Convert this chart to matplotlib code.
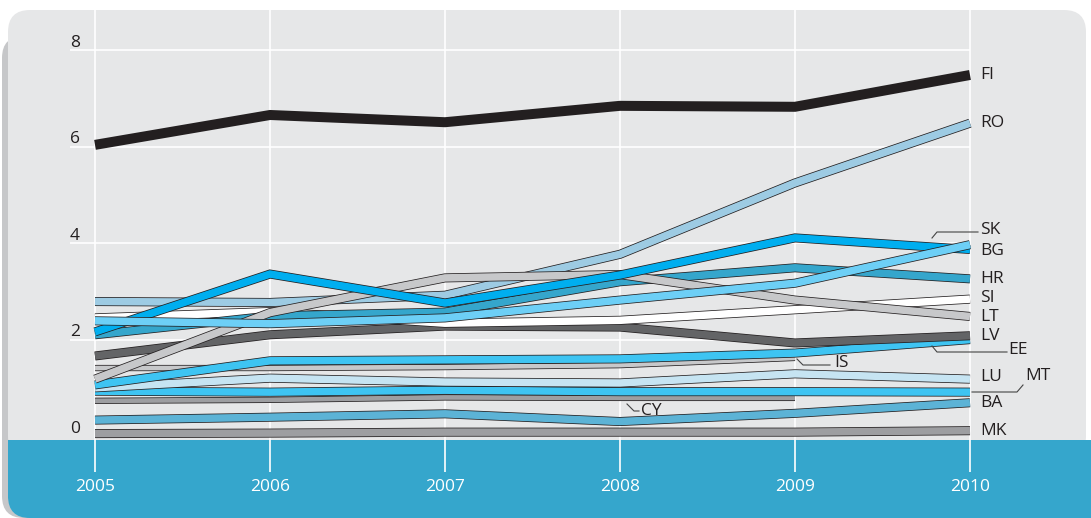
import numpy as np
import matplotlib
matplotlib.use("Agg")
import matplotlib.pyplot as plt
import matplotlib.patheffects as pe
from matplotlib.patches import FancyBboxPatch, Rectangle
from matplotlib.transforms import IdentityTransform

plt.rcParams['font.family'] = ['Open Sans', 'DejaVu Sans']

years = [2005, 2006, 2007, 2008, 2009, 2010]
nan = np.nan

# values
FI = [6.04, 6.66, 6.51, 6.85, 6.83, 7.49]
RO = [2.79, 2.77, 2.92, 3.77, 5.25, 6.49]
SK = [2.16, 3.36, 2.76, 3.34, 4.11, 3.87]
BG = [2.39, 2.33, 2.45, 2.82, 3.17, 3.97]
HR = [2.10, 2.49, 2.57, 3.20, 3.49, 3.26]
SI = [2.45, 2.58, 2.34, 2.40, 2.62, 2.84]
LT = [1.18, 2.56, 3.28, 3.35, 2.82, 2.48]
LV = [1.66, 2.10, 2.28, 2.26, 1.93, 2.08]
EE = [1.06, 1.56, 1.58, 1.60, 1.72, 2.00]
IS = [1.41, 1.41, 1.43, 1.47, 1.62, nan]
LU = [1.00, 1.20, 1.12, 1.10, 1.29, 1.18]
MT = [0.93, 0.91, 0.95, 0.92, 0.92, 0.91]
CY = [0.73, 0.75, 0.80, 0.79, 0.79, nan]
BA = [0.33, 0.39, 0.46, 0.30, 0.47, 0.69]
MK = [0.05, 0.06, 0.08, 0.08, 0.08, 0.11]

yticks = [0, 2, 4, 6, 8]

# drawing order, bottom first: (name, values, colour, width)
series = [
    ("MK", MK, "#9d9ea1", 5.4),
    ("BA", BA, "#5cb3d6", 5.4),
    ("CY", CY, "#9d9ea1", 3.4),
    ("MT", MT, "#3ec4f2", 5.4),
    ("LU", LU, "#c6e4f2", 5.4),
    ("IS", IS, "#c7c8ca", 3.4),
    ("EE", EE, "#3ec4f2", 5.4),
    ("LV", LV, "#636466", 5.4),
    ("SI", SI, "#ffffff", 5.4),
    ("HR", HR, "#35a6cc", 5.4),
    ("RO", RO, "#9dcbe3", 5.4),
    ("LT", LT, "#c7c8ca", 5.4),
    ("SK", SK, "#00aeef", 5.4),
    ("BG", BG, "#6dcff6", 5.4),
]

W, H = 1091, 518
TXT = "#231f20"
BLUE = "#35a6cc"
GREY = "#e6e7e8"

fig = plt.figure(figsize=(W / 100, H / 100), dpi=100)
ax = fig.add_axes([0, 0, 1, 1])
ax.set_zorder(10)

# pixel <-> data mapping
x0px, pxyr = 95, 175.0
y0px, pxunit = 436, 48.2
def dx(px):
    return years[0] + (px - x0px) / pxyr
def dy(py):
    return (y0px - py) / pxunit

ax.set_xlim(dx(0), dx(W))
ax.set_ylim(dy(H), dy(0))
ax.axis("off")
ax.patch.set_visible(False)

# background panel (display pixels, origin bottom left)
tr = IdentityTransform()
def rbox(x, y, w, h, c, r=22, z=0):
    p = FancyBboxPatch((x, y), w, h, boxstyle=f"round,pad=0,rounding_size={r}",
                       transform=tr, fc=c, ec="none", zorder=z)
    fig.patches.append(p)

rbox(2, 0, 1080, 482, "#c6c7c9", z=0)
rbox(8, 0, 1110, 60, BLUE, z=1)
rbox(8, 60, 1078, 448, GREY, z=2)
fig.patches.append(Rectangle((8, 20), 1110, 58, transform=tr, fc=BLUE, ec="none", zorder=3))

# grid
ax.hlines(yticks[1:], dx(70), years[-1], color="white", lw=1.2, zorder=1)
ax.vlines(years, dy(472), dy(10), color="white", lw=1.2, zorder=1)

for v in yticks:
    ax.text(dx(75), v + 0.07, str(v), ha="center", va="baseline", fontsize=12.5, color=TXT)
for yr in years:
    ax.text(yr, dy(487), str(yr), ha="center", va="center", fontsize=12.5, color="white")

# lines
for i, (name, vals, col, lw) in enumerate(series):
    ax.plot(years, vals, color=col, lw=lw, solid_capstyle="butt",
            solid_joinstyle="miter", zorder=10 + i,
            path_effects=[pe.Stroke(linewidth=lw + 1.1, foreground="#231f20"), pe.Normal()])
ax.plot(years, FI, color=TXT, lw=7.2, solid_capstyle="butt", solid_joinstyle="miter", zorder=40)

# end labels
labels = {"FI": (980, 75), "RO": (980, 123), "SK": (980, 230), "BG": (980, 251),
          "HR": (980, 279), "SI": (980, 298), "LT": (980, 317), "LV": (980, 336),
          "EE": (1008, 350), "IS": (834, 363), "LU": (980, 377), "MT": (1025, 376),
          "BA": (980, 403), "MK": (980, 431), "CY": (641, 411)}
for name, (px, py) in labels.items():
    ax.text(dx(px), dy(py), name, ha="left", va="center", fontsize=12.5, color=TXT, zorder=50)

# leader lines
leaders = [
    [(932, 238), (937, 232), (978, 232)],
    [(932, 346), (937, 352), (1007, 352)],
    [(797, 359), (803, 365), (830, 365)],
    [(972, 392), (1017, 392), (1023, 385)],
    [(627, 404), (634, 411), (639, 411)],
]
for pts in leaders:
    ax.plot([dx(p[0]) for p in pts], [dy(p[1]) for p in pts], color="#444444", lw=0.8, zorder=50)

fig.savefig("out.png", dpi=100)
